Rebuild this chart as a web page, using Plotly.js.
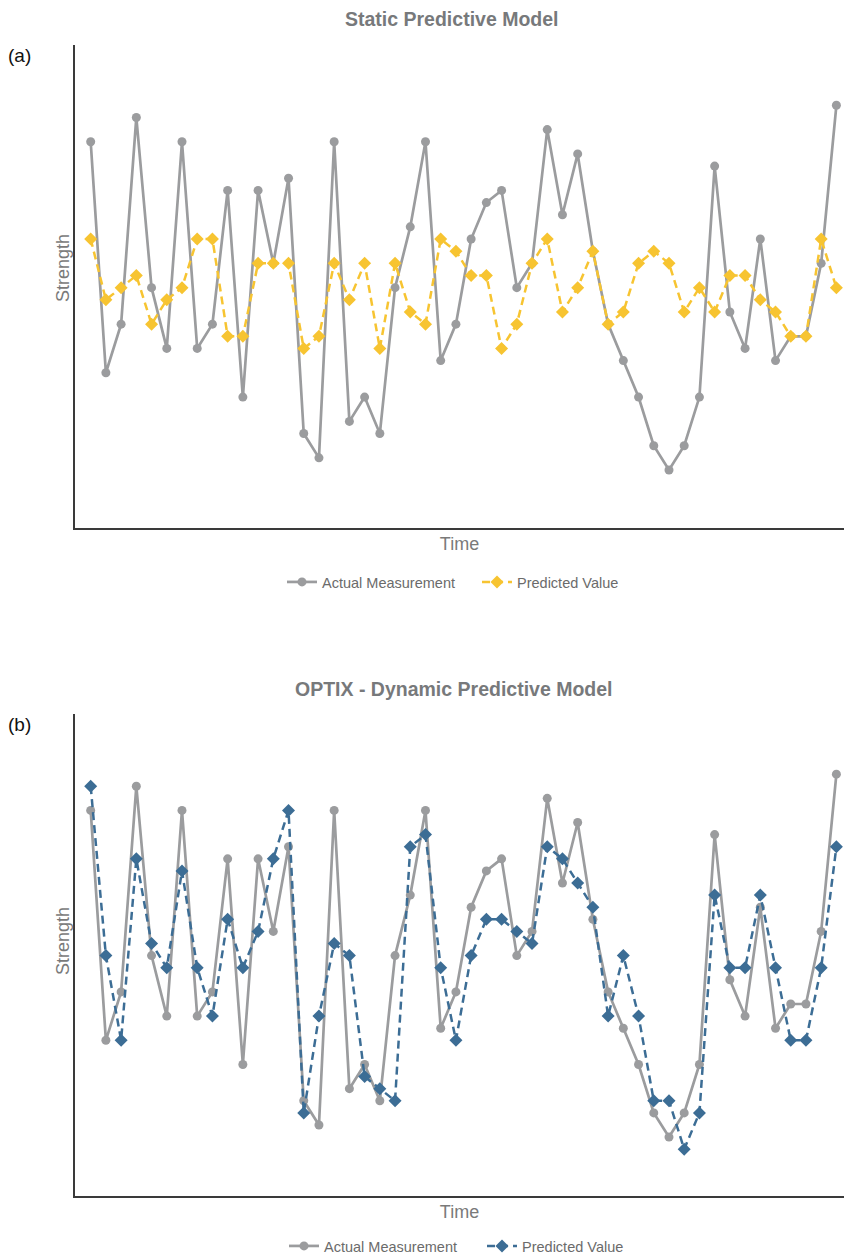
<!DOCTYPE html>
<html>
<head>
<meta charset="utf-8">
<script src="https://cdn.plot.ly/plotly-3.0.1.min.js"></script>
<style>html,body{margin:0;padding:0;background:#fff;}#chart{width:844px;height:1257px;}</style>
</head>
<body>
<div id="chart"></div>
<script>
// Time steps
const timeSteps = Array.from({length: 50}, (_, i) => i + 1);

// Actual measurement (same in both panels), relative strength units
const actualMeasurement = [27, 8, 12, 29, 15, 10, 27, 10, 12, 23,
                           6, 23, 17, 24, 3, 1, 27, 4, 6, 3,
                           15, 20, 27, 9, 12, 19, 22, 23, 15, 17,
                           28, 21, 26, 18, 12, 9, 6, 2, 0, 2,
                           6, 25, 13, 10, 19, 9, 11, 11, 17, 30];

// Static model prediction (panel a)
const staticPredicted = [19, 14, 15, 16, 12, 14, 15, 19, 19, 11,
                         11, 17, 17, 17, 10, 11, 17, 14, 17, 10,
                         17, 13, 12, 19, 18, 16, 16, 10, 12, 17,
                         19, 13, 15, 18, 12, 13, 17, 18, 17, 13,
                         15, 13, 16, 16, 14, 13, 11, 11, 19, 15];

// OPTIX dynamic model prediction (panel b)
const dynamicPredicted = [29, 15, 8, 23, 16, 14, 22, 14, 10, 18,
                          14, 17, 23, 27, 2, 10, 16, 15, 5, 4,
                          3, 24, 25, 14, 8, 15, 18, 18, 17, 16,
                          24, 23, 21, 19, 10, 15, 10, 3, 3, -1,
                          2, 20, 14, 14, 20, 14, 8, 8, 14, 24];

const seriesNames = ["Actual Measurement", "Predicted Value"];
const panelTitles = ["Static Predictive Model", "OPTIX - Dynamic Predictive Model"];
const panelLabels = ["(a)", "(b)"];
const axisTitles = {x: "Time", y: "Strength"};

const GRAY = "#9b9c9e";
const YELLOW = "#f7c431";
const BLUE = "#3c6d95";
const TXT = "#7a7a7a";
const SANS = "Liberation Sans, Arial, sans-serif";

const traces = [
  {x: timeSteps, y: actualMeasurement, name: seriesNames[0], type: "scatter", mode: "lines+markers",
   line: {color: GRAY, width: 2.7}, marker: {symbol: "circle", size: 9, color: GRAY},
   xaxis: "x", yaxis: "y", legend: "legend"},
  {x: timeSteps, y: staticPredicted, name: seriesNames[1], type: "scatter", mode: "lines+markers",
   line: {color: YELLOW, width: 2.5, dash: "8px,5px"}, marker: {symbol: "diamond", size: 10, color: YELLOW},
   xaxis: "x", yaxis: "y", legend: "legend"},
  {x: timeSteps, y: actualMeasurement, name: seriesNames[0], type: "scatter", mode: "lines+markers",
   line: {color: GRAY, width: 2.7}, marker: {symbol: "circle", size: 9, color: GRAY},
   xaxis: "x2", yaxis: "y2", legend: "legend2"},
  {x: timeSteps, y: dynamicPredicted, name: seriesNames[1], type: "scatter", mode: "lines+markers",
   line: {color: BLUE, width: 2.5, dash: "8px,5px"}, marker: {symbol: "diamond", size: 10, color: BLUE},
   xaxis: "x2", yaxis: "y2", legend: "legend2"}
];

const axisBase = {showgrid: false, zeroline: false, showticklabels: false, ticks: "",
  showline: true, linecolor: "#3a3a3a", linewidth: 2, automargin: false};
const xTitle = {text: axisTitles.x, font: {family: SANS, size: 18, color: TXT}, standoff: 8};

const titleFont = {family: SANS, size: 19.5, color: "#77797b", weight: "bold"};
const labelFont = {family: SANS, size: 19, color: "#111111"};
const yTitleFont = {family: SANS, size: 18, color: TXT};
const legendFont = {family: SANS, size: 14.5, color: "#6b6b6b"};

const H = 1257, W = 844;
const layout = {
  width: W, height: H,
  margin: {l: 0, r: 0, t: 0, b: 0, autoexpand: false},
  paper_bgcolor: "#ffffff", plot_bgcolor: "#ffffff",
  showlegend: true,
  xaxis: Object.assign({}, axisBase, {domain: [75/W, 1], range: [-0.03, 50.5], anchor: "y", title: xTitle}),
  yaxis: Object.assign({}, axisBase, {domain: [1 - 528/H, 1 - 45/H], range: [-4.77, 34.96], anchor: "x"}),
  xaxis2: Object.assign({}, axisBase, {domain: [75/W, 1], range: [-0.03, 50.5], anchor: "y2", title: xTitle}),
  yaxis2: Object.assign({}, axisBase, {domain: [1 - 1196/H, 1 - 714/H], range: [-4.87, 34.97], anchor: "x2"}),
  legend: {orientation: "h", x: 282/W, xanchor: "left", y: 1 - 582/H, yanchor: "middle",
    font: legendFont, bgcolor: "rgba(0,0,0,0)", itemwidth: 30, tracegroupgap: 0,
    entrywidth: 150, entrywidthmode: "pixels"},
  legend2: {orientation: "h", x: 284/W, xanchor: "left", y: 1 - 1246/H, yanchor: "middle",
    font: legendFont, bgcolor: "rgba(0,0,0,0)", itemwidth: 30, tracegroupgap: 0,
    entrywidth: 153, entrywidthmode: "pixels"},
  annotations: [
    {text: panelTitles[0], xref: "paper", yref: "paper", x: 451/W, y: 1 - 19/H, xanchor: "center", yanchor: "middle", showarrow: false, font: titleFont},
    {text: panelTitles[1], xref: "paper", yref: "paper", x: 454/W, y: 1 - 689/H, xanchor: "center", yanchor: "middle", showarrow: false, font: titleFont},
    {text: panelLabels[0], xref: "paper", yref: "paper", x: 6/W, y: 1 - 55/H, xanchor: "left", yanchor: "middle", showarrow: false, font: labelFont},
    {text: panelLabels[1], xref: "paper", yref: "paper", x: 6/W, y: 1 - 724/H, xanchor: "left", yanchor: "middle", showarrow: false, font: labelFont},
    {text: axisTitles.y, xref: "paper", yref: "paper", x: 63/W, y: 1 - 268/H, xanchor: "center", yanchor: "middle", textangle: -90, showarrow: false, font: yTitleFont},
    {text: axisTitles.y, xref: "paper", yref: "paper", x: 63/W, y: 1 - 941/H, xanchor: "center", yanchor: "middle", textangle: -90, showarrow: false, font: yTitleFont}
  ]
};

Plotly.newPlot("chart", traces, layout, {staticPlot: true, displayModeBar: false});
</script>
</body>
</html>
